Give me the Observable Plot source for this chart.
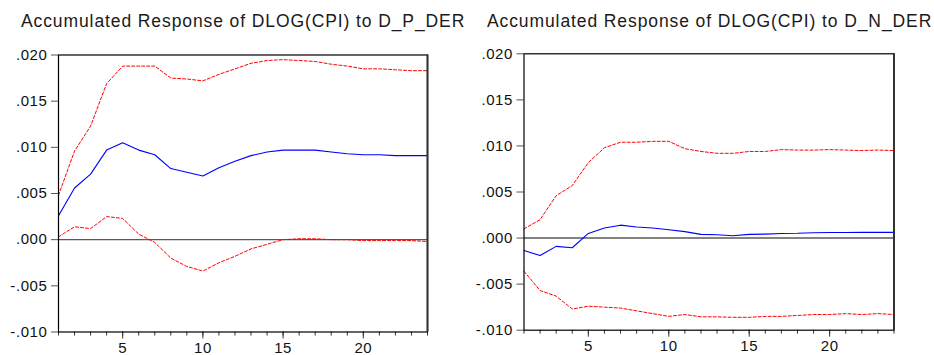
<!DOCTYPE html>
<html>
<head>
<meta charset="utf-8">
<script src="https://cdn.jsdelivr.net/npm/d3@7"></script>
<script src="https://cdn.jsdelivr.net/npm/@observablehq/plot@0.6"></script>
<style>
  body { margin: 0; background: #fff; }
  #wrap { position: relative; width: 934px; height: 355px; overflow: hidden; font-family: "Liberation Sans", Arial, sans-serif; }
  .panel { position: absolute; top: 0; }
  .title { position: absolute; font-size: 17.5px; letter-spacing: 0.9px; color: #1a1a1a; white-space: nowrap; line-height: 20px; }
  svg text { letter-spacing: 0.6px; }
</style>
</head>
<body>
<div id="wrap"></div>
<script>
// Horizons (periods)
const horizons = d3.range(1, 25);

// Accumulated Response of DLOG(CPI) to D_P_DER
const pResponse = [0.0026, 0.0056, 0.0071, 0.0097, 0.0105, 0.0097, 0.0092, 0.0077, 0.0073, 0.0069, 0.0078, 0.0085,
                   0.0091, 0.0095, 0.0097, 0.0097, 0.0097, 0.0095, 0.0093, 0.0092, 0.0092, 0.0091, 0.0091, 0.0091];
const pUpper = [0.0048, 0.0096, 0.0123, 0.0169, 0.0188, 0.0188, 0.0188, 0.0175, 0.0174, 0.0172, 0.0179, 0.0185,
                0.0191, 0.0194, 0.0195, 0.0194, 0.0193, 0.0190, 0.0188, 0.0185, 0.0185, 0.0184, 0.0183, 0.0183];
const pLower = [0.0003, 0.0014, 0.0012, 0.0025, 0.0023, 0.0006, -0.0003, -0.0020, -0.0029, -0.0034, -0.0025, -0.0018,
                -0.0010, -0.0005, 0.0000, 0.0001, 0.0001, 0.0000, -0.0000, -0.0001, -0.0001, -0.0001, -0.0001, -0.0002];

// Accumulated Response of DLOG(CPI) to D_N_DER
const nResponse = [-0.00135, -0.0019, -0.0009, -0.00105, 0.0005, 0.0011, 0.0014, 0.0012, 0.0011, 0.0009, 0.0007, 0.0004,
                   0.00036, 0.00025, 0.0004, 0.00043, 0.0005, 0.00052, 0.00058, 0.0006, 0.00061, 0.00062, 0.00062, 0.00062];
const nUpper = [0.0010, 0.0020, 0.0046, 0.0057, 0.0082, 0.0098, 0.0104, 0.0104, 0.0105, 0.0105, 0.0097, 0.0094,
                0.0092, 0.0092, 0.0094, 0.0094, 0.0096, 0.00955, 0.00955, 0.0096, 0.00955, 0.0095, 0.00955, 0.0095];
const nLower = [-0.0036, -0.0057, -0.0063, -0.0077, -0.0074, -0.0075, -0.0076, -0.0079, -0.0082, -0.0085, -0.0083, -0.00855,
                -0.00855, -0.0086, -0.0086, -0.0085, -0.0085, -0.0084, -0.0083, -0.0083, -0.0082, -0.0083, -0.0082, -0.0083];

const titles = ["Accumulated Response of DLOG(CPI) to D_P_DER", "Accumulated Response of DLOG(CPI) to D_N_DER"];
const yTicks = [-0.010, -0.005, 0.000, 0.005, 0.010, 0.015, 0.020];
const xMajorTicks = [5, 10, 15, 20];
const xMinorTicks = d3.range(1, 25);

const fmt = d => d3.format(".3f")(d).replace("\u2212", "-").replace(/^(-?)0\./, "$1.");

function panel(resp, up, lo, m) {
  const rows = horizons.map((h, i) => ({h, resp: resp[i], up: up[i], lo: lo[i]}));
  return Plot.plot({
    width: 467,
    height: 355,
    marginLeft: m.left,
    marginRight: m.right,
    marginTop: m.top,
    marginBottom: m.bottom,
    style: {fontFamily: "Liberation Sans, Arial, sans-serif", fontSize: "15px", color: "#111", background: "white"},
    x: {domain: [1, 24]},
    y: {domain: [-0.010, 0.020]},
    marks: [
      Plot.ruleY([0], {stroke: "#5a5a5a", strokeWidth: 1.4}),
      Plot.line(rows, {x: "h", y: "up", stroke: "#ff0000", strokeWidth: 1, strokeDasharray: "3,2"}),
      Plot.line(rows, {x: "h", y: "lo", stroke: "#ff0000", strokeWidth: 1, strokeDasharray: "3,2"}),
      Plot.line(rows, {x: "h", y: "resp", stroke: "#0000ff", strokeWidth: 1.1}),
      Plot.axisY({ticks: yTicks, tickFormat: fmt, tickSize: 7, tickPadding: 4, stroke: "#555", label: null, fill: "#111"}),
      Plot.axisX({ticks: xMinorTicks, tickFormat: () => "", tickSize: 4, tickPadding: 0, stroke: "#333", label: null}),
      Plot.axisX({ticks: xMajorTicks, tickFormat: d => String(d), tickSize: 7, tickPadding: 3, stroke: "#333", label: null, fill: "#111"}),
      Plot.frame({stroke: "#000", strokeWidth: 1.2}),
      Plot.ruleX([24], {stroke: "#333", strokeWidth: 2})
    ]
  });
}

const wrap = document.getElementById("wrap");
const configs = [
  {resp: pResponse, up: pUpper, lo: pLower, left: 0, m: {left: 58, right: 40, top: 54.5, bottom: 23.5}, titleX: 21},
  {resp: nResponse, up: nUpper, lo: nLower, left: 467, m: {left: 56.5, right: 40.5, top: 53.3, bottom: 25.3}, titleX: 487}
];
configs.forEach((c, i) => {
  const div = document.createElement("div");
  div.className = "panel";
  div.style.left = c.left + "px";
  div.appendChild(panel(c.resp, c.up, c.lo, c.m));
  wrap.appendChild(div);
  const t = document.createElement("div");
  t.className = "title";
  t.style.left = c.titleX + "px";
  t.style.top = "11px";
  t.textContent = titles[i];
  wrap.appendChild(t);
});
</script>
</body>
</html>
